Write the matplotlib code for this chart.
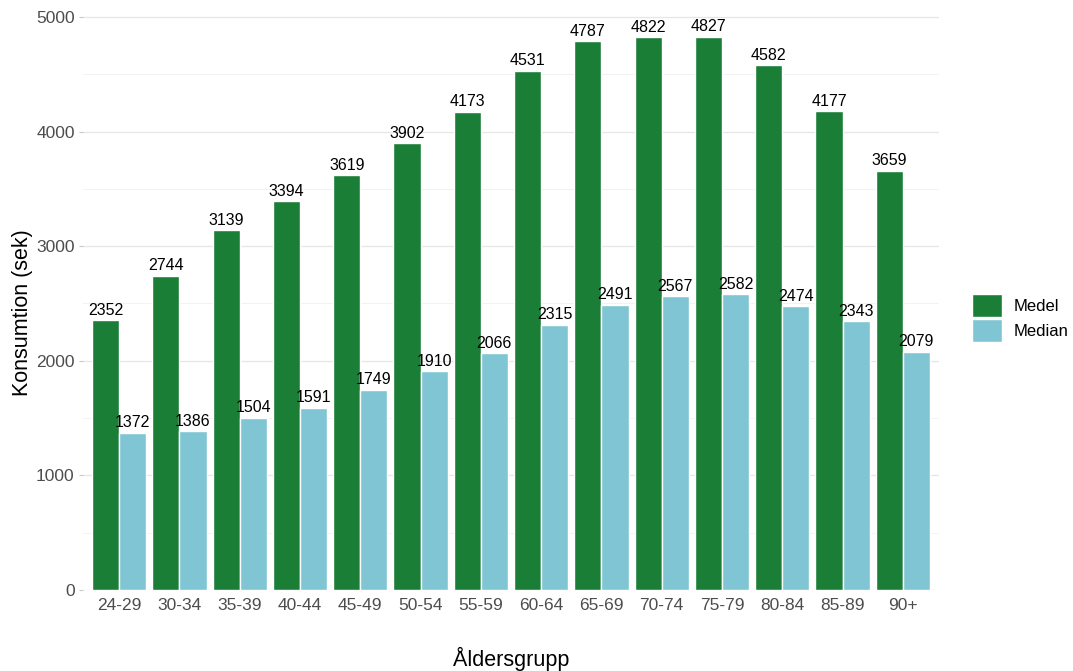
import numpy as np
import matplotlib.pyplot as plt
from matplotlib.patches import Patch

plt.rcParams['font.family'] = ['Liberation Sans', 'DejaVu Sans']

groups = ['24-29', '30-34', '35-39', '40-44', '45-49', '50-54', '55-59',
          '60-64', '65-69', '70-74', '75-79', '80-84', '85-89', '90+']
medel = [2352, 2744, 3139, 3394, 3619, 3902, 4173, 4531, 4787, 4822, 4827, 4582, 4177, 3659]
median = [1372, 1386, 1504, 1591, 1749, 1910, 2066, 2315, 2491, 2567, 2582, 2474, 2343, 2079]

c_medel = '#1b7e37'
c_median = '#80c5d4'

fig = plt.figure(figsize=(10.73, 6.71), dpi=100)
ax = fig.add_axes([83/1073, 81/671, 856/1073, 586/671])

x = np.arange(len(groups)) + 1
w = 0.45
ax.bar(x - w/2, medel, w, color=c_medel, edgecolor='white', linewidth=1, zorder=3)
ax.bar(x + w/2, median, w, color=c_median, edgecolor='white', linewidth=1, zorder=3)

for i in range(len(groups)):
    ax.text(x[i] - w/2, medel[i] + 20, str(medel[i]), ha='center', va='bottom', fontsize=11.5, color='black', zorder=4)
    ax.text(x[i] + w/2, median[i] + 20, str(median[i]), ha='center', va='bottom', fontsize=11.5, color='black', zorder=4)

ax.set_xlim(0.4, len(groups) + 0.6)
ax.set_ylim(0, 5113)
ax.set_xticks(x)
ax.set_xticklabels(groups)
ax.set_yticks([0, 1000, 2000, 3000, 4000, 5000])
ax.set_yticks([500, 1500, 2500, 3500, 4500], minor=True)
ax.grid(axis='y', which='major', color='#e6e6e6', linewidth=0.9, zorder=0)
ax.grid(axis='y', which='minor', color='#f0f0f0', linewidth=0.6, zorder=0)
for s in ax.spines.values():
    s.set_visible(False)
ax.tick_params(axis='y', which='major', length=3, color='#c8c8c8', labelsize=12.5, labelcolor='#4d4d4d', pad=3)
ax.tick_params(axis='y', which='minor', length=0)
ax.tick_params(axis='x', length=0, labelsize=12.5, labelcolor='#4d4d4d', pad=6)

ax.set_ylabel('Konsumtion (sek)', fontsize=15.5)
ax.yaxis.set_label_coords(-0.058, 0.474)
ax.set_xlabel('Åldersgrupp', fontsize=15.5, labelpad=24)

handles = [Patch(facecolor=c_medel, edgecolor='white', label='Medel'),
           Patch(facecolor=c_median, edgecolor='white', label='Median')]
fig.legend(handles=handles, loc='center left', bbox_to_anchor=(957/1073, 1 - 318/671),
           frameon=False, fontsize=12, handlelength=1.8, handleheight=1.75,
           labelspacing=0.1, handletextpad=0.7)

plt.savefig('out.png', dpi=100)
